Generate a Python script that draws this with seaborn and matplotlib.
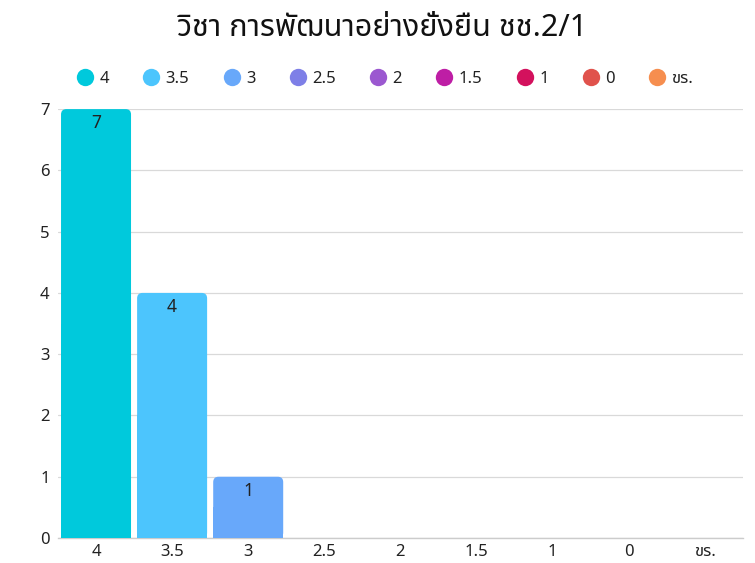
import matplotlib
matplotlib.use("Agg")
import matplotlib.pyplot as plt
import seaborn as sns
import pandas as pd
from matplotlib.patches import FancyBboxPatch, Rectangle
from matplotlib.lines import Line2D

# data
grades = ["4", "3.5", "3", "2.5", "2", "1.5", "1", "0", "ขร."]
counts = [7, 4, 1, 0, 0, 0, 0, 0, 0]
colors = ["#00c9dc", "#4cc5fd", "#68a8fa", "#7e7fe7", "#9b58d0",
          "#be1ea5", "#d3115d", "#e0524c", "#f68e4f"]
title = "วิชา การพัฒนาอย่างยั่งยืน ชช.2/1"
y_ticks = [0, 1, 2, 3, 4, 5, 6, 7]

sns.set_theme(style="white")
plt.rcParams["font.family"] = ["Noto Sans", "Noto Sans Thai"]

df = pd.DataFrame({"grade": grades, "count": counts})

fig = plt.figure(figsize=(7.55, 5.63), dpi=100)
ax = fig.add_axes([0.0768, 0.0444, 0.907, 0.7618])

sns.barplot(
    data=df,
    x="grade",
    y="count",
    hue="grade",
    palette=colors,
    order=grades,
    hue_order=grades,
    width=0.92,
    legend=False,
    ax=ax
)

ax.set_ylim(0, 7)
ax.set_xlim(-0.5, len(grades) - 0.5)
ax.set_yticks(y_ticks)
ax.grid(axis="y", color="#d9d9d9", linewidth=0.9)
ax.set_axisbelow(True)
for s in ["top", "right", "left"]:
    ax.spines[s].set_visible(False)
ax.spines["bottom"].set_color("#cccccc")
ax.spines["bottom"].set_linewidth(1.0)
ax.set_xlabel("")
ax.set_ylabel("")
ax.tick_params(axis="y", length=0, pad=6, labelsize=12, labelcolor="#222222")
ax.tick_params(axis="x", length=0, pad=4, labelsize=12, labelcolor="#222222")
for lbl in ax.get_xticklabels():
    lbl.set_family(["Noto Sans Thai", "Sarabun"])

# rounded bar tops
for patch, c, v in zip(ax.patches, colors, counts):
    patch.set_visible(False)
    if v <= 0:
        continue
    x0 = patch.get_x()
    w = patch.get_width()
    rb = FancyBboxPatch(
        (x0, 0), w, v,
        boxstyle="round,pad=0,rounding_size=0.07",
        mutation_aspect=1.25,
        facecolor=c, edgecolor="none", zorder=3
    )
    ax.add_patch(rb)
    ax.add_patch(Rectangle((x0, 0), w, v / 2, facecolor=c,
                           edgecolor="none", zorder=3))
    ax.annotate(
        str(v), (x0 + w / 2, v),
        xytext=(0, -3.5), textcoords="offset points",
        ha="center", va="top", fontsize=12.5, color="#222222", zorder=4
    )

fig.text(0.507, 0.95, title, ha="center", va="center",
         fontsize=22, family=["Noto Sans Thai", "Noto Sans"], color="#111111")

handles = [
    Line2D([0], [0], marker="o", linestyle="none", markersize=12.5,
           markerfacecolor=c, markeredgecolor="none")
    for c in colors
]
leg = fig.legend(
    handles, grades,
    loc="center", bbox_to_anchor=(0.51, 0.86),
    ncol=len(grades), frameon=False, fontsize=12,
    handletextpad=0.35, columnspacing=2.05, handlelength=1.0
)
for t in leg.get_texts():
    t.set_family(["Noto Sans", "Noto Sans Thai"])
    t.set_color("#222222")

fig.savefig("out.png", dpi=100)
